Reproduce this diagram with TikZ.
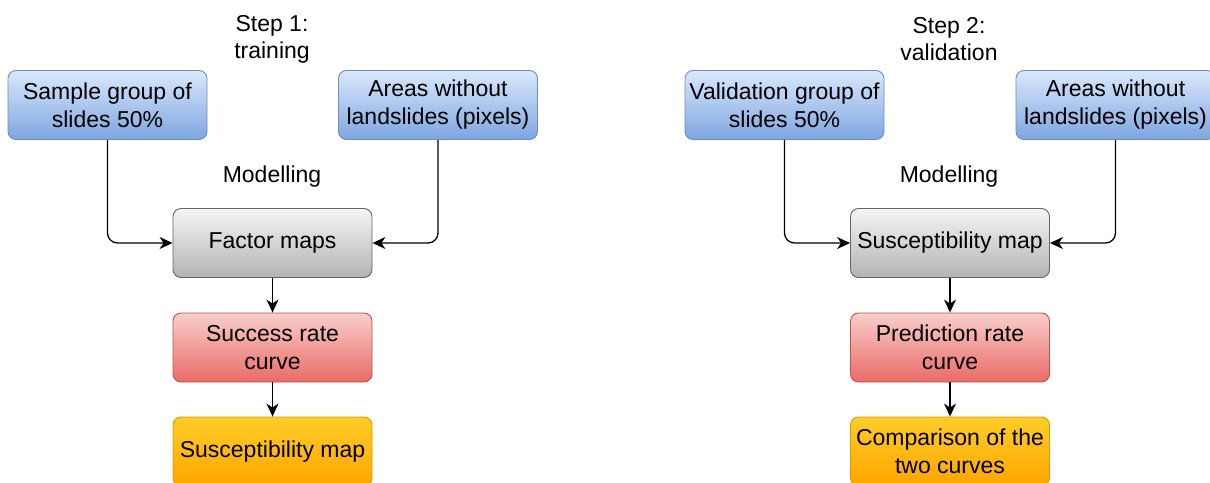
\documentclass[tikz,border=0pt]{standalone}
\usepackage{fontspec}
\setmainfont{Liberation Sans}
\usetikzlibrary{arrows.meta}
\definecolor{blueT}{HTML}{DAE8FC}
\definecolor{blueB}{HTML}{7EA6E0}
\definecolor{blueS}{HTML}{6C8EBF}
\definecolor{grayT}{HTML}{F5F5F5}
\definecolor{grayB}{HTML}{B3B3B3}
\definecolor{grayS}{HTML}{666666}
\definecolor{redT}{HTML}{F8CECC}
\definecolor{redB}{HTML}{EA6B66}
\definecolor{redS}{HTML}{B85450}
\definecolor{orT}{HTML}{FFCD28}
\definecolor{orB}{HTML}{FFA500}
\definecolor{orS}{HTML}{D79B00}
\tikzset{
  box/.style={rectangle, rounded corners=8pt, minimum width=199pt, minimum height=69pt,
    line width=0.9pt, align=center, inner sep=2pt, font=\fontsize{23}{28}\selectfont},
  bluebox/.style={box, draw=blueS, top color=blueT, bottom color=blueB},
  graybox/.style={box, draw=grayS, top color=grayT, bottom color=grayB},
  redbox/.style={box, draw=redS, top color=redT, bottom color=redB},
  orbox/.style={box, draw=orS, top color=orT, bottom color=orB},
  lbl/.style={align=center, font=\fontsize{23}{27}\selectfont, inner sep=0pt},
  conn/.style={line width=1.3pt, rounded corners=10pt, -{Stealth[length=13pt,width=12pt,inset=4pt]}}
}
\begin{document}
\begin{tikzpicture}[x=1pt,y=-1pt]
\useasboundingbox (0,0) rectangle (1210,482);
% Step 1
\node[lbl] (t1) at (272,39) {Step 1:\\training};
\node[lbl] (m1) at (272,177) {Modelling};
\node[bluebox] (s1) at (107.5,105) {Sample group of\\slides 50\%};
\node[bluebox] (a1) at (438,105) {Areas without\\landslides (pixels)};
\node[graybox] (f1) at (272.5,243) {Factor maps};
\node[redbox] (r1) at (272.5,347.5) {Success rate\\curve};
\node[orbox] (o1) at (272.5,451.5) {Susceptibility map};
\draw[conn] (s1.south) |- (f1.west);
\draw[conn] (a1.south) |- (f1.east);
\draw[conn] (f1.south) -- (r1.north);
\draw[conn] (r1.south) -- (o1.north);
% Step 2
\node[lbl] (t2) at (949,39) {Step 2:\\validation};
\node[lbl] (m2) at (949,177) {Modelling};
\node[bluebox] (s2) at (784.5,105) {Validation group of\\slides 50\%};
\node[bluebox] (a2) at (1115.5,105) {Areas without\\landslides (pixels)};
\node[graybox] (f2) at (950,243) {Susceptibility map};
\node[redbox] (r2) at (950,347.5) {Prediction rate\\curve};
\node[orbox] (o2) at (950,451.5) {Comparison of the\\two curves};
\draw[conn] (s2.south) |- (f2.west);
\draw[conn] (a2.south) |- (f2.east);
\draw[conn] (f2.south) -- (r2.north);
\draw[conn] (r2.south) -- (o2.north);
\end{tikzpicture}
\end{document}
